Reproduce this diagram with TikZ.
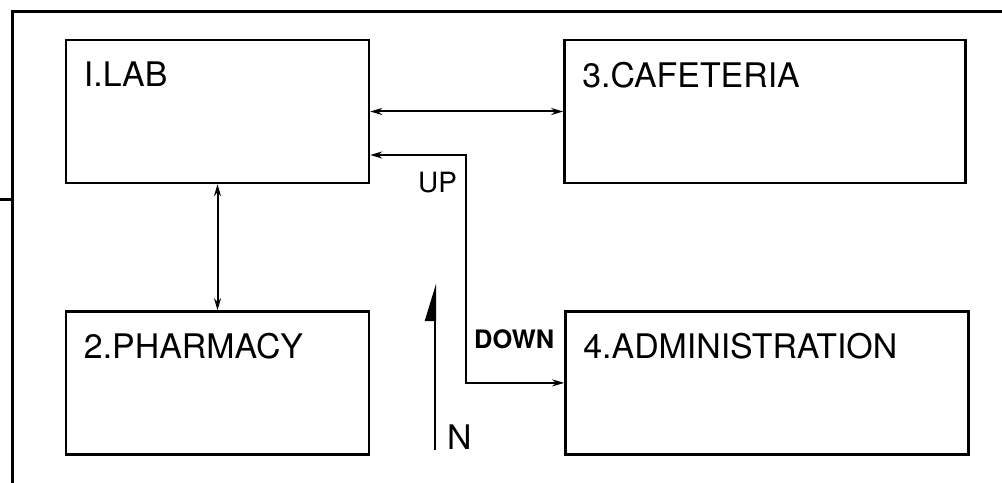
\documentclass[tikz,border=0pt]{standalone}
\usepackage{fontspec}
\setmainfont{TeX Gyre Heros}
\usetikzlibrary{arrows.meta,positioning}

\tikzset{
  room/.style={draw, line width=2.4bp, rectangle, inner sep=0pt, minimum height=143bp},
  roomtext/.style={anchor=north west, inner sep=0pt, xshift=19bp, yshift=-23bp,
    font=\fontsize{34}{36}\selectfont},
  link/.style={line width=2bp, {Stealth[length=12bp,width=7bp]}-{Stealth[length=12bp,width=7bp]}},
  frame/.style={line width=3bp, line cap=rect},
  tag/.style={anchor=north west, inner sep=0pt, font=\fontsize{28}{30}\selectfont},
}

\begin{document}
\begin{tikzpicture}[x=1bp, y=-1bp, node distance=193bp]
  \useasboundingbox (0,0) rectangle (1002,483);
  % outer wall
  \draw[frame] (1002,12) -- (12,12) -- (12,483);
  \draw[frame] (0,200) -- (12,200);

  % rooms
  \node[room, minimum width=303bp, label={[roomtext, label distance=0pt]north west:I.LAB}] (lab) at (217.5,111.5) {};
  \node[room, minimum width=401bp, right=193bp of lab, label={[roomtext, label distance=0pt]north west:3.CAFETERIA}] (cafe) {};
  \node[room, minimum width=303bp, below=126bp of lab, label={[roomtext, label distance=0pt]north west:2.PHARMACY}] (pharm) {};
  \node[room, minimum width=403bp, right=194bp of pharm, label={[roomtext, label distance=0pt]north west:4.ADMINISTRATION}] (admin) {};

  % corridors
  \coordinate (turn) at (466,155);
  \draw[link] (lab) -- (cafe);
  \draw[link] (lab) -- (pharm);
  \draw[link] (admin.west) -| (turn) -- (lab.east |- turn);
  \node[tag] (up) at (418,172) {UP};
  \node[tag, font=\bfseries\fontsize{25.5}{27}\selectfont] (down) at (474,329) {DOWN};

  % north sign
  \coordinate (ntail) at (435,450);
  \coordinate (ntip) at (435,283);
  \draw[line width=2.4bp, -{Triangle[harpoon, length=34bp, width=20bp]}] (ntail) -- (ntip);
  \node[tag, font=\fontsize{34}{36}\selectfont] (north) at (447,425) {N};
\end{tikzpicture}
\end{document}
